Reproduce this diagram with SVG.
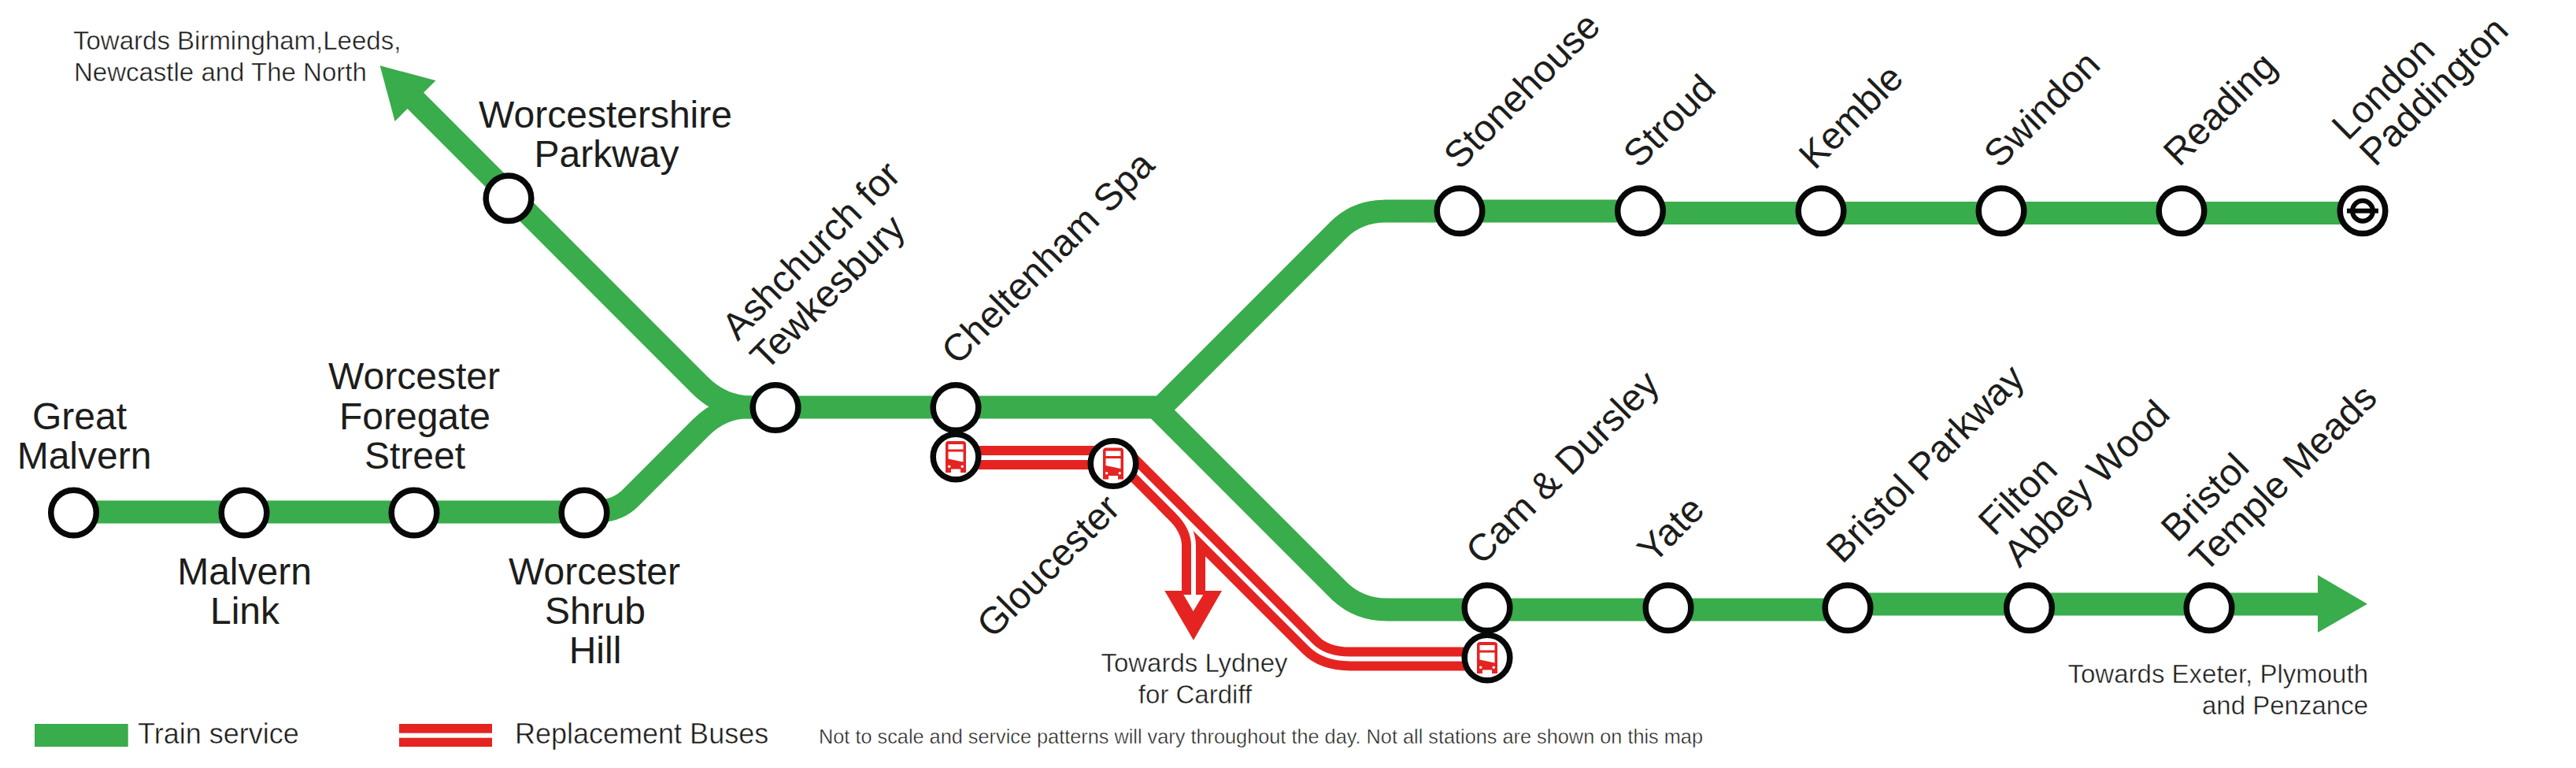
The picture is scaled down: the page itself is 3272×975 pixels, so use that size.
<svg xmlns="http://www.w3.org/2000/svg" xmlns:xlink="http://www.w3.org/1999/xlink" width="3272" height="975" viewBox="0 0 3272 975">
<style>
text{font-family:"Liberation Sans",Arial,sans-serif;fill:#1d1d1b}
.l{font-size:48px}
.m{text-anchor:middle}
.s{font-size:33px}
.k{font-size:36px}
.f{font-size:25.3px}
.s,.k,.f{stroke:#fff;stroke-width:.45px}
.g{fill:none;stroke:#39ac4b;stroke-width:29}
.r{fill:none;stroke:#e52421;stroke-width:30}
.w{fill:none;stroke:#fff;stroke-width:6}
.st{fill:#fff;stroke:#070808;stroke-width:7.5}
</style>
<defs>
<g id="bus">
<path fill="#e52421" fill-rule="evenodd" d="M-13,-16a4,4 0 0 1 4,-4H9a4,4 0 0 1 4,4V20H6V15.5H-6V20H-13ZM-9.5,-16V-9.5H9.5V-16ZM-9.5,-6.5V2.5L9.5,6.5V-6.5Z"/>
<circle cx="-8.3" cy="12.3" r="1.7" fill="#fff"/>
<circle cx="8.3" cy="12.3" r="1.7" fill="#fff"/>
</g>
</defs>
<rect width="3272" height="975" fill="#fff"/>
<g id="connectors">
<path class="g" d="M93 650H750Q783 650 800 633L890 543Q916 517 950 517H1475"/>
<path class="g" d="M520 120L889 489Q917 517 955 517"/>
<polygon points="482.6,83.3 553.5,102.3 501.6,154" fill="#39ac4b"/>
<path class="g" d="M1475 517L1700 292Q1724 268 1760 268H2083"/>
<path class="g" d="M2083 270.5H3001"/>
<path class="g" d="M1468 517L1700 749Q1725 774 1762 774H2347"/>
<path class="g" d="M2347 767H2950"/>
<polygon points="2944,730 3007,766.7 2944,803" fill="#39ac4b"/>
<path class="r" d="M1480 634L1495.6 649.6Q1516 670 1516 693V752"/>
<polygon points="1479.3,750 1552,750 1516,812.7" fill="#e52421"/>
<path class="r" d="M1214 581H1427L1665 819Q1682.5 836.5 1715 836.5H1889"/>
<path class="w" d="M1214 581H1427L1665 819Q1682.5 836.5 1715 836.5H1889"/>
<path class="w" d="M1495.6 649.6Q1516 670 1516 693V757"/>
<polygon points="1503.3,755 1528.3,755 1515.7,776" fill="#fff"/>
</g>
<g id="station-great-malvern"><circle class="st" cx="93.5" cy="651" r="28.8"/><text class="l m" x="101" y="545">Great</text><text class="l m" x="107" y="595">Malvern</text></g>
<g id="station-malvern-link"><circle class="st" cx="310" cy="651" r="28.8"/><text class="l m" x="310.5" y="741.7">Malvern</text><text class="l m" x="311" y="791.7">Link</text></g>
<g id="station-worcester-foregate-street"><circle class="st" cx="526" cy="651" r="28.8"/><text class="l m" x="526" y="494">Worcester</text><text class="l m" x="527" y="545">Foregate</text><text class="l m" x="527" y="595">Street</text></g>
<g id="station-worcester-shrub-hill"><circle class="st" cx="742" cy="651" r="28.8"/><text class="l m" x="755" y="741.7">Worcester</text><text class="l m" x="756" y="791.7">Shrub</text><text class="l m" x="756" y="841.7">Hill</text></g>
<g id="station-worcestershire-parkway"><circle class="st" cx="646" cy="251.7" r="28.8"/><text class="l m" x="769" y="162">Worcestershire</text><text class="l m" x="770.5" y="212">Parkway</text></g>
<g id="station-ashchurch"><circle class="st" cx="985" cy="517.5" r="28.8"/><text class="l" transform="translate(937 434) rotate(-45)">Ashchurch for</text><text class="l" transform="translate(973 472) rotate(-45)">Tewkesbury</text></g>
<g id="station-cheltenham-spa"><circle class="st" cx="1214" cy="517.5" r="28.8"/><text class="l" transform="translate(1216 465) rotate(-45)">Cheltenham Spa</text></g>
<g id="stop-cheltenham-bus"><circle class="st" cx="1214" cy="580" r="28.8"/><use xlink:href="#bus" href="#bus" x="1214" y="580"/></g>
<g id="stop-gloucester-bus"><circle class="st" cx="1414" cy="588.5" r="28.8"/><use xlink:href="#bus" href="#bus" x="1414" y="588.5"/><text class="l" transform="translate(1261 812) rotate(-45)">Gloucester</text></g>
<g id="station-stonehouse"><circle class="st" cx="1854" cy="267.7" r="28.8"/><text class="l" transform="translate(1854 217) rotate(-45)">Stonehouse</text></g>
<g id="station-stroud"><circle class="st" cx="2083.5" cy="267.7" r="28.8"/><text class="l" transform="translate(2082 215) rotate(-45)">Stroud</text></g>
<g id="station-kemble"><circle class="st" cx="2313" cy="267.7" r="28.8"/><text class="l" transform="translate(2305 217) rotate(-45)">Kemble</text></g>
<g id="station-swindon"><circle class="st" cx="2542" cy="267.7" r="28.8"/><text class="l" transform="translate(2540 215) rotate(-45)">Swindon</text></g>
<g id="station-reading"><circle class="st" cx="2771" cy="267.7" r="28.8"/><text class="l" transform="translate(2768 213) rotate(-45)">Reading</text></g>
<g id="station-london-paddington"><circle class="st" cx="3001" cy="267.7" r="28.8"/><circle cx="3001" cy="267.7" r="13" fill="none" stroke="#070808" stroke-width="6"/><rect x="2981" y="264.7" width="40" height="6" fill="#070808"/><text class="l" transform="translate(2982 180) rotate(-45)">London</text><text class="l" transform="translate(3017 213) rotate(-45)">Paddington</text></g>
<g id="station-cam-dursley"><circle class="st" cx="1889" cy="771.7" r="28.8"/><text class="l" transform="translate(1882 719) rotate(-45)">Cam &amp; Dursley</text></g>
<g id="stop-cam-bus"><circle class="st" cx="1889" cy="835" r="28.8"/><use xlink:href="#bus" href="#bus" x="1889" y="835"/></g>
<g id="station-yate"><circle class="st" cx="2119" cy="771.7" r="28.8"/><text class="l" transform="translate(2100 717) rotate(-45)">Yate</text></g>
<g id="station-bristol-parkway"><circle class="st" cx="2347" cy="771.7" r="28.8"/><text class="l" transform="translate(2340 717) rotate(-45)">Bristol Parkway</text></g>
<g id="station-filton"><circle class="st" cx="2577.5" cy="771.7" r="28.8"/><text class="l" transform="translate(2533 682) rotate(-45)">Filton</text><text class="l" transform="translate(2565 722) rotate(-45)">Abbey Wood</text></g>
<g id="station-temple-meads"><circle class="st" cx="2806" cy="771.7" r="28.8"/><text class="l" transform="translate(2765 690) rotate(-45)">Bristol</text><text class="l" transform="translate(2801 728.5) rotate(-45)">Temple Meads</text></g>
<g id="destinations">
<text class="s" x="93" y="63">Towards Birmingham,Leeds,</text>
<text class="s" x="94" y="103">Newcastle and The North</text>
<text class="s m" x="1517" y="853">Towards Lydney</text>
<text class="s m" x="1518" y="893">for Cardiff</text>
<text class="s" x="3008" y="867" text-anchor="end">Towards Exeter, Plymouth</text>
<text class="s" x="3008" y="907" text-anchor="end">and Penzance</text>
</g>
<g id="legend">
<rect x="44" y="919" width="118.7" height="29" fill="#39ac4b"/>
<text class="k" x="175" y="944">Train service</text>
<rect x="507" y="919" width="118" height="29" fill="#e52421"/>
<rect x="507" y="930.7" width="118" height="6" fill="#fff"/>
<text class="k" x="654" y="944">Replacement Buses</text>
<text class="f" x="1040" y="944">Not to scale and service patterns will vary throughout the day. Not all stations are shown on this map</text>
</g>
</svg>
